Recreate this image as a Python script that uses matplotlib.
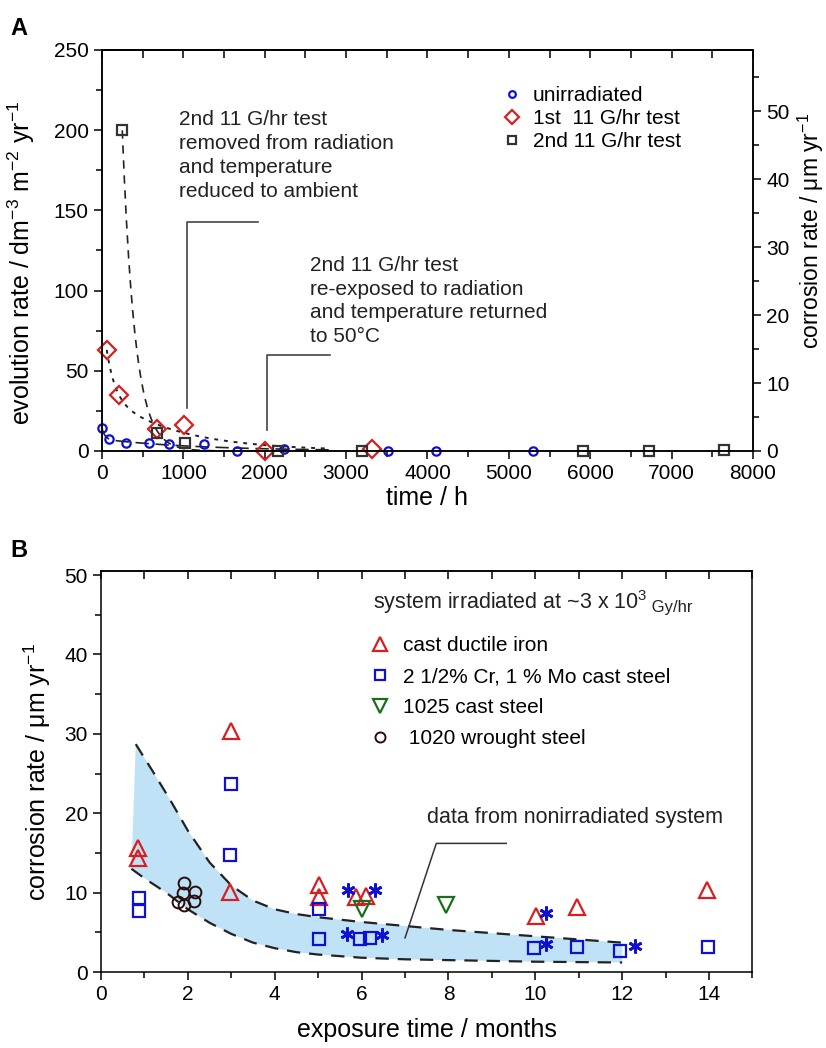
import numpy as np
import matplotlib.pyplot as plt
from matplotlib.ticker import MultipleLocator

plt.rcParams['font.family'] = ['Liberation Sans', 'DejaVu Sans']
plt.rcParams['mathtext.fontset'] = 'custom'
plt.rcParams['mathtext.rm'] = 'Liberation Sans'
plt.rcParams['mathtext.it'] = 'Liberation Sans:italic'
plt.rcParams['mathtext.default'] = 'regular'
plt.rcParams['axes.linewidth'] = 1.1

# ---- panel A data (time / h, evolution rate) ----
unirr_t = [0, 86, 295, 577, 822, 1252, 1663, 2233, 3513, 4102, 5300]
unirr_r = [14.1, 7.5, 4.8, 5.2, 4.2, 4.2, 0.0, 1.0, 0.2, 0.0, 0.0]
test1_t = [58, 209, 671, 1010, 2000, 3317]
test1_r = [63, 35, 14, 16, 0.0, 1.0]
test2_t = [249, 671, 1018, 2167, 3194, 5914, 6724, 7643]
test2_r = [200, 11, 4.8, 0.0, 0.0, 0.0, 0.0, 0.6]

# ---- panel B data (exposure time / months, corrosion rate) ----
iron_x = [0.85, 0.85, 3.0, 2.97, 5.02, 5.03, 5.88, 6.11, 10.02, 10.96, 13.95]
iron_y = [15.6, 14.4, 30.3, 10.1, 11.0, 9.5, 9.4, 9.6, 7.0, 8.2, 10.3]
crmo_x = [0.88, 0.88, 3.0, 2.96, 5.02, 5.02, 5.97, 6.19, 9.96, 10.96, 11.95, 13.98]
crmo_y = [9.3, 7.7, 23.7, 14.7, 7.9, 4.1, 4.1, 4.3, 3.0, 3.1, 2.7, 3.2]
c1025_x = [6.0, 7.94]
c1025_y = [7.9, 8.4]
w1020_x = [1.90, 1.88, 2.16, 2.13, 1.77, 1.90]
w1020_y = [11.2, 10.0, 10.1, 8.9, 8.8, 8.4]
star_x = [5.69, 6.30, 5.67, 6.46, 10.25, 10.25, 12.29]
star_y = [10.3, 10.3, 4.8, 4.7, 7.4, 3.5, 3.3]

# nonirradiated band
band_up_x = [0.8, 1.2, 1.6, 2.0, 2.5, 3.0, 3.5, 4.0, 4.5, 5.0, 5.5, 6.0, 7.0, 8.0, 9.0, 10.0, 11.0, 12.0]
band_up_y = [28.7, 25.2, 21.6, 17.8, 13.8, 10.9, 9.0, 7.9, 7.3, 6.9, 6.6, 6.3, 5.8, 5.3, 4.9, 4.5, 4.1, 3.7]
band_lo_x = [0.7, 1.0, 1.5, 2.0, 2.5, 3.0, 3.5, 4.0, 4.5, 5.0, 6.0, 7.0, 8.0, 10.0, 12.0]
band_lo_y = [13.0, 11.8, 10.0, 7.9, 6.2, 4.8, 3.7, 3.0, 2.5, 2.2, 1.8, 1.6, 1.5, 1.3, 1.2]

RED = '#d81e1e'
BLUE = '#1010d0'
GREEN = '#1a6e1a'
BROWN = '#2a0c0c'
FS = 15


def fit_decay(t, y, nterms=2):
    # sum of exponential decays, grid search on rates, nonnegative amplitudes
    t = np.asarray(t, float)
    y = np.asarray(y, float)
    best = None
    ks = np.geomspace(2e-4, 3e-2, 50)
    grid = [(k,) for k in ks] if nterms == 1 else [(a, b) for a in ks for b in ks]
    for kk in grid:
        A = np.column_stack([np.exp(-k * t) for k in kk])
        coef, *_ = np.linalg.lstsq(A, y, rcond=None)
        if (coef < 0).any():
            continue
        err = np.sum((A @ coef - y) ** 2)
        if best is None or err < best[0]:
            best = (err, kk, coef)
    _, kk, c = best
    return lambda tt: sum(ci * np.exp(-k * tt) for ci, k in zip(c, kk))


fig = plt.figure(figsize=(8.26, 10.48), dpi=100)

# ================= panel A =================
axA = fig.add_axes([0.1235, 0.5697, 0.7881, 0.3826])
axA.set_xlim(0, 8000)
axA.set_ylim(0, 250)

f_u = fit_decay(unirr_t, unirr_r, 2)
f_1 = fit_decay(test1_t, test1_r, 2)
f_2 = fit_decay(test2_t, test2_r, 1)
tt = np.linspace(0, 2800, 300)
axA.plot(tt, f_u(tt), color='#222222', lw=1.2, dashes=(8, 4))
tt = np.linspace(test1_t[0], 2800, 300)
axA.plot(tt, f_1(tt), color='#222222', lw=1.4, dashes=(2, 3))
tt = np.linspace(test2_t[0], 2800, 300)
axA.plot(tt, f_2(tt), color='#222222', lw=1.2, dashes=(5, 4))

hu, = axA.plot(unirr_t, unirr_r, 'o', ms=6, mfc='none', mec=BLUE, mew=1.6, ls='none', clip_on=False)
h1, = axA.plot(test1_t, test1_r, 'D', ms=9, mfc='none', mec=RED, mew=1.6, ls='none', clip_on=False)
h2, = axA.plot(test2_t, test2_r, 's', ms=7, mfc='none', mec='#333333', mew=1.6, ls='none', clip_on=False)

# annotation leaders
axA.plot([1039, 1039, 1918], [26.7, 142.6, 142.6], color='#444444', lw=1.2)
axA.plot([2033, 2033, 2798], [13.1, 59.7, 59.7], color='#444444', lw=1.2)
axA.text(946, 184, '2nd 11 G/hr test\nremoved from radiation\nand temperature\nreduced to ambient',
         fontsize=FS, va='center', ha='left', linespacing=1.33, color='#222222')
axA.text(2556, 93.5, '2nd 11 G/hr test\nre-exposed to radiation\nand temperature returned\nto 50°C',
         fontsize=FS, va='center', ha='left', linespacing=1.33, color='#222222')

axA.legend([hu, h1, h2], ['unirradiated', '1st  11 G/hr test', '2nd 11 G/hr test'],
           loc='upper left', bbox_to_anchor=(0.614, 0.91), frameon=False, fontsize=FS,
           handlelength=1.0, handletextpad=0.5, labelspacing=0.2, borderpad=0,
           borderaxespad=0, markerscale=0.8)

axA.xaxis.set_major_locator(MultipleLocator(1000))
axA.xaxis.set_minor_locator(MultipleLocator(500))
axA.yaxis.set_major_locator(MultipleLocator(50))
axA.yaxis.set_minor_locator(MultipleLocator(25))
axA.tick_params(which='both', direction='out', labelsize=FS, width=1.1)
axA.tick_params(which='major', length=6)
axA.tick_params(which='minor', length=4)
axA.set_xlabel('time / h', fontsize=18, labelpad=2)
axA.set_ylabel('evolution rate / dm$^{-3}$ m$^{-2}$ yr$^{-1}$', fontsize=18)
axA.yaxis.set_label_coords(-0.10, 0.47)

topA = axA.secondary_xaxis('top')
topA.set_xticks(np.arange(0, 8001, 500))
topA.tick_params(direction='in', length=6, width=1.1, labeltop=False)

rA = axA.twinx()
rA.set_ylim(0, 59.05)
rA.yaxis.set_major_locator(MultipleLocator(10))
rA.yaxis.set_minor_locator(MultipleLocator(5))
rA.tick_params(which='both', direction='out', labelsize=FS, width=1.1)
rA.tick_params(which='major', length=6)
rA.tick_params(which='minor', length=4)
rA.set_ylabel('corrosion rate / μm yr$^{-1}$', fontsize=16.5)
rA.yaxis.set_label_coords(1.066, 0.55)

# ================= panel B =================
axB = fig.add_axes([0.1223, 0.0725, 0.7887, 0.3826])
axB.set_xlim(0, 15)
axB.set_ylim(0, 50.5)

fill_x = list(band_up_x) + list(band_lo_x[::-1])
fill_y = list(band_up_y) + list(band_lo_y[::-1])
axB.fill(fill_x, fill_y, color='#bfe2f6', lw=0)
axB.plot(band_up_x, band_up_y, color='#222222', lw=1.6, dashes=(6, 4))
axB.plot(band_lo_x, band_lo_y, color='#222222', lw=1.6, dashes=(6, 4))

hi, = axB.plot(iron_x, iron_y, '^', ms=12, mfc='none', mec=RED, mew=1.6, ls='none')
hc, = axB.plot(crmo_x, crmo_y, 's', ms=9, mfc='none', mec=BLUE, mew=1.6, ls='none')
hg, = axB.plot(c1025_x, c1025_y, 'v', ms=12, mfc='none', mec=GREEN, mew=1.6, ls='none')
hw, = axB.plot(w1020_x, w1020_y, 'o', ms=8.5, mfc='none', mec=BROWN, mew=1.4, ls='none')
axB.plot(star_x, star_y, marker=(6, 2, 0), ms=10, mec=BLUE, mew=2.0, ls='none')

axB.plot([7.0, 7.72, 9.33], [4.3, 16.2, 16.2], color='#333333', lw=1.1)
axB.text(7.5, 19.4, 'data from nonirradiated system', fontsize=15.5, va='center', ha='left',
         color='#222222')

sys_t = axB.text(6.26, 46.6, 'system irradiated at ~3 x 10$^3$', fontsize=15.5, va='center',
                 ha='left', color='#222222')
axB.annotate(' Gy/hr', xy=(1, 0.05), xycoords=sys_t, fontsize=12, va='bottom', ha='left',
             color='#222222')

axB.legend([hi, hc, hg, hw],
           ['cast ductile iron', '2 1/2% Cr, 1 % Mo cast steel', '1025 cast steel', ' 1020 wrought steel'],
           loc='upper left', bbox_to_anchor=(0.412, 0.838), frameon=False, fontsize=FS,
           handlelength=1.0, handletextpad=0.6, labelspacing=0.58, borderpad=0,
           borderaxespad=0, markerscale=0.85)

axB.xaxis.set_major_locator(MultipleLocator(2))
axB.xaxis.set_minor_locator(MultipleLocator(1))
axB.yaxis.set_major_locator(MultipleLocator(10))
axB.yaxis.set_minor_locator(MultipleLocator(5))
axB.tick_params(which='both', direction='out', labelsize=FS, width=1.1)
axB.tick_params(which='major', length=6)
axB.tick_params(which='minor', length=4)
axB.set_xlabel('exposure time / months', fontsize=18, labelpad=10)
axB.set_ylabel('corrosion rate / μm yr$^{-1}$', fontsize=18, labelpad=8)

topB = axB.secondary_xaxis('top')
topB.set_xticks(np.arange(0, 16, 1))
topB.tick_params(direction='in', length=6, width=1.1, labeltop=False)

fig.text(0.012, 0.973, 'A', fontsize=17, fontweight='bold', va='center')
fig.text(0.012, 0.475, 'B', fontsize=17, fontweight='bold', va='center')

fig.savefig('out.png', dpi=100)
